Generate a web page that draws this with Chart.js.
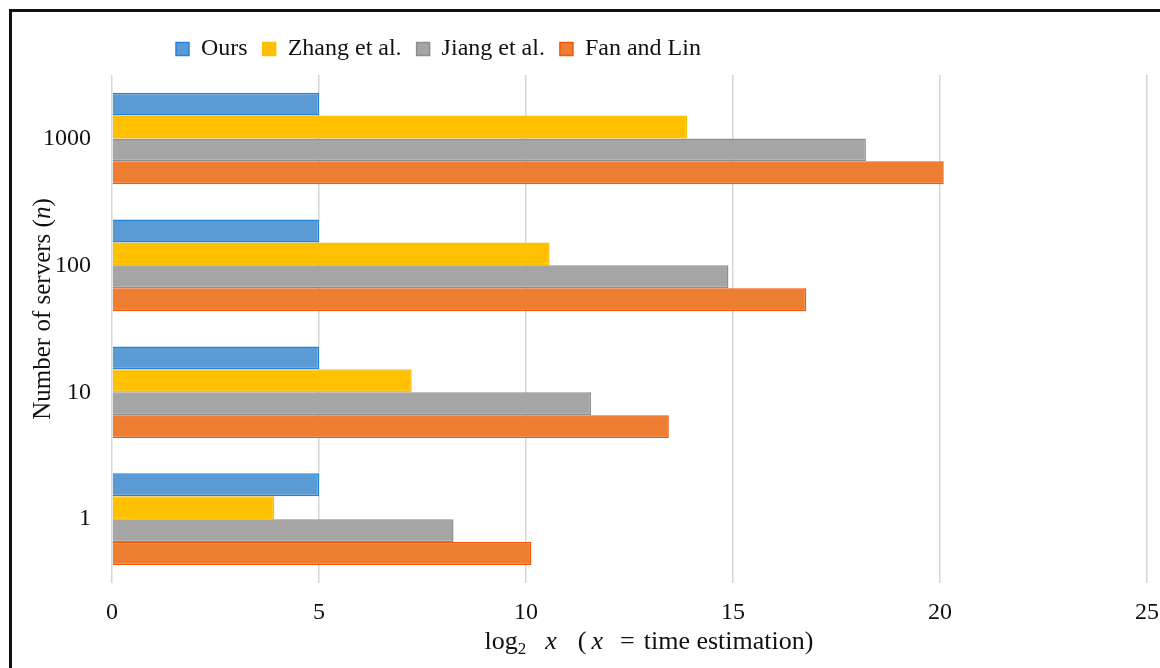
<!DOCTYPE html>
<html>
<head>
<meta charset="utf-8">
<script src="https://cdn.jsdelivr.net/npm/chart.js@4/dist/chart.umd.min.js"></script>
<style>
    html, body { margin: 0; padding: 0; background: #fff; }
    #wrap { position: relative; width: 1160px; height: 668px; }
    #frame {
        position: absolute; left: 9px; top: 9px; right: 0; bottom: 0;
        border-left: 3px solid #111; border-top: 3px solid #111;
        pointer-events: none;
    }
</style>
</head>
<body>
<div id="wrap">
    <canvas id="chart" width="1160" height="668"></canvas>
    <div id="frame"></div>
</div>
<script>
// servers (n), top to bottom
const categories = ["1000", "100", "10", "1"];

// log2 of time estimation
const ours = [5, 5, 5, 5];
const zhang = [13.89, 10.57, 7.24, 3.92];
const jiang = [18.21, 14.89, 11.57, 8.25];
const fanLin = [20.09, 16.77, 13.45, 10.13];

const xTicks = [0, 5, 10, 15, 20, 25];

const SERIF = '"Liberation Serif", "Times New Roman", serif';

// draws a line of text with mixed fonts, centred on (cx, cy)
// each part may carry a gap (px) placed before it
function drawRich(ctx, parts, cx, cy, angle) {
    ctx.save();
    ctx.translate(cx, cy);
    ctx.rotate(angle || 0);
    ctx.textBaseline = "alphabetic";
    ctx.fillStyle = "#111";
    let total = 0;
    parts.forEach(function(p) {
        ctx.font = p.font;
        p.w = ctx.measureText(p.text).width;
        total += p.w + (p.gap || 0);
    });
    let x = -total / 2;
    parts.forEach(function(p) {
        x += p.gap || 0;
        ctx.font = p.font;
        ctx.fillText(p.text, x, 8 + (p.dy || 0));
        x += p.w;
    });
    ctx.restore();
}

const axisTitles = {
    id: "axisTitles",
    afterLayout(chart) {
        // legend sits left of centre and a bit higher in the original
        const lg = chart.legend;
        const w = lg.right - lg.left;
        lg.left = 161;
        lg.right = 161 + w;
        lg.top -= 4;
        lg.bottom -= 4;
    },
    afterDraw(chart) {
        const ctx = chart.ctx;
        const big = "26px " + SERIF;
        const bigIt = "italic 26px " + SERIF;
        drawRich(ctx, [
            {text: "log", font: big},
            {text: "2", font: "17px " + SERIF, dy: 5},
            {text: "x", font: bigIt, gap: 19},
            {text: "(", font: big, gap: 21},
            {text: "x", font: bigIt, gap: 5},
            {text: "=", font: big, gap: 17},
            {text: "time estimation)", font: big, gap: 9}
        ], 649, 641, 0);
        drawRich(ctx, [
            {text: "Number of servers (", font: "25px " + SERIF},
            {text: "n", font: "italic 25px " + SERIF},
            {text: ")", font: "25px " + SERIF}
        ], 42, 309, -Math.PI / 2);
    }
};

const ctx = document.getElementById("chart").getContext("2d");
const chart = new Chart(ctx, {
    type: "bar",
    data: {
        labels: categories,
        datasets: [{
            label: "Ours",
            data: ours,
            backgroundColor: "#5b9bd5",
            borderColor: "#2584d8",
            borderWidth: 1.5
        }, {
            label: "Zhang et al.",
            data: zhang,
            backgroundColor: "#ffc000",
            borderColor: "#ffbf00",
            borderWidth: 1.5
        }, {
            label: "Jiang et al.",
            data: jiang,
            backgroundColor: "#a5a5a5",
            borderColor: "#8e8e8e",
            borderWidth: 1.5
        }, {
            label: "Fan and Lin",
            data: fanLin,
            backgroundColor: "#ed7d31",
            borderColor: "#f2560a",
            borderWidth: 1.5
        }]
    },
    options: {
        indexAxis: "y",
        responsive: false,
        animation: false,
        devicePixelRatio: 1,
        layout: {
            padding: {top: 26, right: 2, bottom: 0, left: 0}
        },
        datasets: {
            bar: {
                barPercentage: 1,
                categoryPercentage: 0.722
            }
        },
        scales: {
            x: {
                min: 0,
                max: 25,
                afterBuildTicks: function(scale) {
                    scale.ticks = xTicks.map(function(v) { return {value: v}; });
                },
                afterFit: function(scale) {
                    scale.height = 85.4;
                    // tick padding should not eat horizontal room
                    scale.paddingLeft = 12;
                    scale.paddingRight = 13;
                },
                grid: {
                    color: "#d6d6d6",
                    lineWidth: 1.5,
                    drawTicks: false
                },
                border: {display: false},
                ticks: {
                    color: "#111",
                    padding: 16,
                    font: {family: SERIF, size: 24}
                }
            },
            y: {
                afterFit: function(scale) {
                    scale.width = 112;
                },
                grid: {display: false, drawTicks: false},
                border: {display: false},
                ticks: {
                    color: "#111",
                    padding: 21,
                    font: {family: SERIF, size: 24}
                }
            }
        },
        plugins: {
            legend: {
                position: "top",
                align: "start",
                labels: {
                    boxWidth: 13,
                    boxHeight: 13,
                    padding: 15,
                    color: "#111",
                    font: {family: SERIF, size: 24}
                }
            },
            tooltip: {enabled: false}
        }
    },
    plugins: [axisTitles]
});
</script>
</body>
</html>
